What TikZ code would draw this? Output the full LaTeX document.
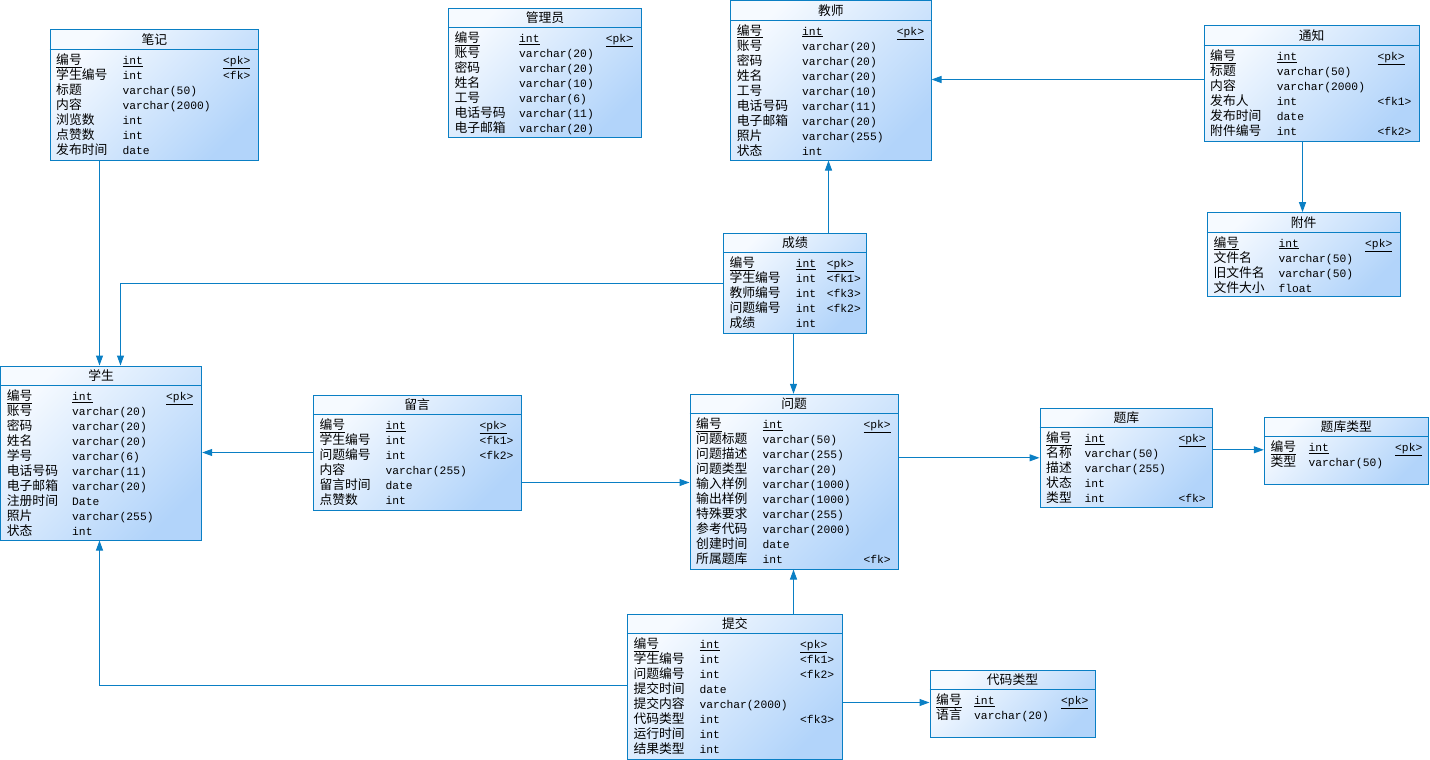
\documentclass[tikz,border=0pt]{standalone}
\usepackage{fontspec}
\newfontfamily\cjk{Noto Sans CJK SC}
\newfontfamily\lat{Liberation Mono}
\usetikzlibrary{arrows.meta,calc}
\definecolor{bord}{HTML}{0A7FC4}
\definecolor{gradA}{HTML}{F6FAFF}
\definecolor{gradB}{HTML}{B2D4FA}
\tikzset{
  tbl/.style={draw=bord, line width=1pt, inner sep=0pt, top color=gradA, bottom color=gradB, shading angle=45},
  sepline/.style={draw=bord, line width=1pt},
  ttl/.style={inner sep=0pt, anchor=base, font=\cjk\fontsize{12.8}{14}\selectfont},
  nm/.style={inner sep=0pt, anchor=base west, font=\cjk\fontsize{12.8}{14}\selectfont},
  ty/.style={inner sep=0pt, anchor=base west, font=\lat\fontsize{11.3}{14}\selectfont},
  rel/.style={draw=bord, line width=1pt, -{Triangle[length=10pt,width=7pt]}}
}
% #1 name #2 left #3 top #4 right #5 bottom #6 title #7 type x #8 key x #9 rows
\newcommand\ertable[9]{%
  \node[tbl, minimum width={(#4)-(#2)}, minimum height={(#5)-(#3)}] (#1) at ({((#2)+(#4))/2},{((#3)+(#5))/2}) {};
  \draw[sepline] ([yshift=-20pt]#1.north west) -- ([yshift=-20pt]#1.north east);
  \node[ttl] at ({((#2)+(#4))/2},{(#3)+14.5}) {#6};
  \foreach \n/\t/\k [count=\i] in {#9} {
    \pgfmathsetmacro\yy{(#3)+34.5+15*(\i-1)}
    \ifnum\i=1
      \node[nm] at ({(#2)+6},\yy) {\underline{\n}};
      \node[ty] at (#7,\yy) {\underline{\t}};
      \node[ty] at (#8,\yy) {\underline{\k}};
    \else
      \node[nm] at ({(#2)+6},\yy) {\n};
      \node[ty] at (#7,\yy) {\t};
      \node[ty] at (#8,\yy) {\k};
    \fi
  }
}
\begin{document}
\begin{tikzpicture}[x=1pt,y=-1pt]
\useasboundingbox (0,0) rectangle (1430,760);

\ertable{note}{50}{30}{258.7}{160}{笔记}{122.3}{223}{编号/int/<pk>, 学生编号/int/<fk>, 标题/varchar(50)/{}, 内容/varchar(2000)/{}, 浏览数/int/{}, 点赞数/int/{}, 发布时间/date/{}}

\ertable{admin}{448.3}{8.3}{641.7}{137.3}{管理员}{519}{605.7}{编号/int/<pk>, 账号/varchar(20)/{}, 密码/varchar(20)/{}, 姓名/varchar(10)/{}, 工号/varchar(6)/{}, 电话号码/varchar(11)/{}, 电子邮箱/varchar(20)/{}}

\ertable{teacher}{730.7}{0.7}{931}{160}{教师}{802}{896.7}{编号/int/<pk>, 账号/varchar(20)/{}, 密码/varchar(20)/{}, 姓名/varchar(20)/{}, 工号/varchar(10)/{}, 电话号码/varchar(11)/{}, 电子邮箱/varchar(20)/{}, 照片/varchar(255)/{}, 状态/int/{}}

\ertable{notice}{1204}{26}{1419.3}{141}{通知}{1276.7}{1377.3}{编号/int/<pk>, 标题/varchar(50)/{}, 内容/varchar(2000)/{}, 发布人/int/<fk1>, 发布时间/date/{}, 附件编号/int/<fk2>}

\ertable{attach}{1207.3}{212.7}{1400}{296.7}{附件}{1278.3}{1365}{编号/int/<pk>, 文件名/varchar(50)/{}, 旧文件名/varchar(50)/{}, 文件大小/float/{}}

\ertable{score}{723.3}{233.3}{866.7}{333.3}{成绩}{795.7}{826.7}{编号/int/<pk>, 学生编号/int/<fk1>, 教师编号/int/<fk3>, 问题编号/int/<fk2>, 成绩/int/{}}

\ertable{student}{0.7}{366}{201.7}{540}{学生}{72}{166}{编号/int/<pk>, 账号/varchar(20)/{}, 密码/varchar(20)/{}, 姓名/varchar(20)/{}, 学号/varchar(6)/{}, 电话号码/varchar(11)/{}, 电子邮箱/varchar(20)/{}, 注册时间/Date/{}, 照片/varchar(255)/{}, 状态/int/{}}

\ertable{message}{313.3}{395}{521}{510}{留言}{385.3}{479.3}{编号/int/<pk>, 学生编号/int/<fk1>, 问题编号/int/<fk2>, 内容/varchar(255)/{}, 留言时间/date/{}, 点赞数/int/{}}

\ertable{problem}{690}{394.3}{898.3}{569}{问题}{762.3}{863.3}{编号/int/<pk>, 问题标题/varchar(50)/{}, 问题描述/varchar(255)/{}, 问题类型/varchar(20)/{}, 输入样例/varchar(1000)/{}, 输出样例/varchar(1000)/{}, 特殊要求/varchar(255)/{}, 参考代码/varchar(2000)/{}, 创建时间/date/{}, 所属题库/int/<fk>}

\ertable{bank}{1040}{408.3}{1212.7}{507.3}{题库}{1084.3}{1178.3}{编号/int/<pk>, 名称/varchar(50)/{}, 描述/varchar(255)/{}, 状态/int/{}, 类型/int/<fk>}

\ertable{banktype}{1264.3}{417.3}{1428.3}{484}{题库类型}{1308.3}{1395}{编号/int/<pk>, 类型/varchar(50)/{}}

\ertable{submit}{627.3}{614}{842.3}{759.3}{提交}{699.3}{800}{编号/int/<pk>, 学生编号/int/<fk1>, 问题编号/int/<fk2>, 提交时间/date/{}, 提交内容/varchar(2000)/{}, 代码类型/int/<fk3>, 运行时间/int/{}, 结果类型/int/{}}

\ertable{codetype}{930}{670}{1095}{737.3}{代码类型}{974}{1061}{编号/int/<pk>, 语言/varchar(20)/{}}

% connectors
\draw[rel] ([xshift=50pt]note.south west) -- ([xshift=50pt]note.south west |- student.north);
\draw[rel] ([yshift=-50.7pt]score.north west) -| ([xshift=120.3pt]student.north west);
\draw[rel] ([xshift=105.7pt]score.north west) -- ([xshift=105.7pt]score.north west |- teacher.south);
\draw[rel] ([xshift=70.7pt]score.south west) -- ([xshift=70.7pt]score.south west |- problem.north);
\draw[rel] ([yshift=-54pt]notice.north west) -- ([yshift=-54pt]notice.north west -| teacher.east);
\draw[rel] ([xshift=99pt]notice.south west) -- ([xshift=99pt]notice.south west |- attach.north);
\draw[rel] ([yshift=-58pt]message.north west) -- ([yshift=-58pt]message.north west -| student.east);
\draw[rel] ([yshift=-88pt]message.north east) -- ([yshift=-88pt]message.north east -| problem.west);
\draw[rel] ([yshift=-64pt]problem.north east) -- ([yshift=-64pt]problem.north east -| bank.west);
\draw[rel] ([yshift=-42pt]bank.north east) -- ([yshift=-42pt]bank.north east -| banktype.west);
\draw[rel] ([xshift=166.7pt]submit.north west) -- ([xshift=166.7pt]submit.north west |- problem.south);
\draw[rel] ([yshift=-72pt]submit.north west) -| ([xshift=99.3pt]student.south west);
\draw[rel] ([yshift=-89pt]submit.north east) -- ([yshift=-89pt]submit.north east -| codetype.west);
\end{tikzpicture}
\end{document}
